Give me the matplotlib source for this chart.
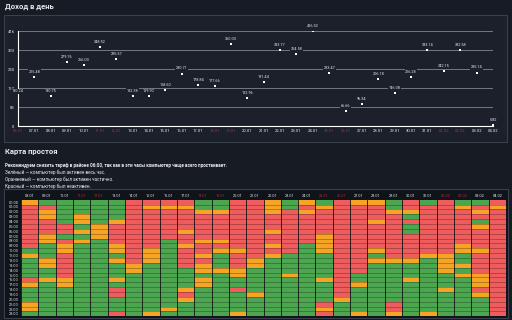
import matplotlib
matplotlib.use('Agg')
from matplotlib import pyplot as plt
from matplotlib.colors import ListedColormap
from matplotlib.patches import Rectangle
import numpy as np

plt.rcParams['font.family'] = ['Roboto', 'DejaVu Sans']

# income per day
days = ['06.01', '07.01', '08.01', '09.01', '10.01', '11.01', '12.01', '13.01', '14.01', '15.01',
        '16.01', '17.01', '18.01', '19.01', '20.01', '21.01', '22.01', '23.01', '24.01', '25.01',
        '26.01', '27.01', '28.01', '29.01', '30.01', '31.01', '01.02', '02.02', '03.02', '04.02']
income = [130.24, 215.48, 130.75, 279.76, 266.03, 348.52, 295.57, 132.38, 129.90, 158.60,
          230.71, 178.84, 177.66, 360.03, 122.96, 191.44, 333.77, 314.58, 416.32, 233.47,
          66.66, 96.34, 206.18, 146.08, 216.28, 333.14, 242.15, 332.58, 235.14, 5.82]
red_days = ['06.01', '11.01', '12.01', '18.01', '19.01', '25.01', '26.01', '01.02', '02.02']
y_ticks = [0, 83.26, 166.53, 249.79, 333.06, 416.32]
y_labels = ['0', '83', '167', '250', '333', '416']

# idle map: one string per day, hours 00..23 (groups of 6), g = active, o = partly, r = idle
map_days = days[2:]
hours = ['%02d:00' % h for h in range(24)]
idle_map = [
    'orrrrr rrrrgo ggggro gggoog',  # 08.01
    'groorr rooggg ooggog gggggg',  # 09.01
    'gggggr rgroor rrrroo gggggg',  # 10.01
    'gggoog ogoggg gggggg gggggg',  # 11.01
    'gggggo oogggg gggggg gggggg',  # 12.01
    'ggggor rrroog ogggog rrgggr',  # 13.01
    'rrrrrr rrrrrr rooggg gggggg',  # 14.01
    'rorrrr rrrroo oggggg gggggo',  # 15.01
    'rorrrr rrgggg gggggg ggggog',  # 16.01
    'rorrrr orrorr rrgggg oroggg',  # 17.01
    'ggorrr rrorro roogoo gggggg',  # 18.01
    'ggorrr rrorog ggoggg gggggg',  # 19.01
    'rrrrrr rrrror rroogg rggggo',  # 20.01
    'rrrrrr rrrrrr oogggg gogggg',  # 21.01
    'ooorrr orroro gggggg gggggg',  # 22.01
    'ggrrrr rrrrrg gggogg gggggg',  # 23.01
    'ororrr rrrggg gggggg gggggg',  # 24.01
    'gorrrr roooog ggggog gggror',  # 25.01
    'rrrrrr rrrrrr rrrrrr rroggg',  # 26.01
    'orrrrr rrrrrr rrrggo gggggo',  # 27.01
    'orrror rrrrog oggggg gggggg',  # 28.01
    'ggorrr rrrrrr oggggg gggrro',  # 29.01
    'rrogrg grrrrr ogggog gggggg',  # 30.01
    'grrrrr rrrrro gggggg gggggo',  # 31.01
    'rrrrrr rrrrro oooggg oggggg',  # 01.02
    'gorrrr rrroog gogogg gggggg',  # 02.02
    'grorgo rrrror rrrooo rogggg',  # 03.02
    'rorrrr rrrrrr rrrrrr rrrrrr',  # 04.02
]
code = {'g': 0, 'o': 1, 'r': 2}
grid = np.array([[code[c] for c in col.replace(' ', '')] for col in idle_map]).T

bg = '#161b24'
panel = '#1b202a'
txt = '#e6e8ec'
red_txt = '#b3294a'
W, H = 512, 320

fig = plt.figure(figsize=(5.12, 3.2), dpi=100, facecolor=bg)

def box(x0, y0, x1, y1):
    return [x0 / W, 1 - y1 / H, (x1 - x0) / W, (y1 - y0) / H]

# panels behind the axes
fig.patches.append(Rectangle((4 / W, 1 - 142 / H), 503 / W, 127 / H, transform=fig.transFigure,
                             facecolor=panel, edgecolor='#3a404b', linewidth=0.8, zorder=-10))
fig.patches.append(Rectangle((4 / W, 1 - 318 / H), 504 / W, 129 / H, transform=fig.transFigure,
                             facecolor='#0f131a', edgecolor='#3a404b', linewidth=0.8, zorder=-10))

fig.text(5 / W, 1 - 7 / H, 'Доход в день', color=txt, fontsize=5.5, fontweight='bold', va='center')
fig.text(5 / W, 1 - 151.5 / H, 'Карта простоя', color=txt, fontsize=5.5, fontweight='bold', va='center')
fig.text(5 / W, 1 - 165.5 / H, 'Рекомендуем снизить тариф в районе 06:00, так как в эти часы компьютер чаще всего простаивает.',
         color=txt, fontsize=3.3, fontweight='bold', va='center')
fig.text(5 / W, 1 - 172.5 / H, 'Зелёный — компьютер был активен весь час.', color=txt, fontsize=3.3, va='center')
fig.text(5 / W, 1 - 179.5 / H, 'Оранжевый — компьютер был активен частично.', color=txt, fontsize=3.3, va='center')
fig.text(5 / W, 1 - 186.5 / H, 'Красный — компьютер был неактивен.', color=txt, fontsize=3.3, va='center')

# income chart
ax = fig.add_axes(box(18, 31.3, 493, 126))
ax.set_facecolor('none')
x = np.arange(len(days))
ax.plot(x, income, 's', color='white', markersize=1.6, markeredgewidth=0, zorder=4)
for xi, v in zip(x, income):
    ax.annotate('%.2f' % v, (xi, v), xytext=(0, 2.2), textcoords='offset points', ha='center', va='bottom',
                fontsize=2.8, color=txt, zorder=5,
                bbox=dict(boxstyle='square,pad=0.15', facecolor=panel, edgecolor='none'))
ax.set_xlim(0, len(days) - 1)
ax.set_ylim(0, y_ticks[-1])
ax.set_yticks(y_ticks)
ax.set_yticklabels(y_labels)
ax.set_xticks(x)
ax.set_xticklabels(days)
for lab in ax.get_xticklabels():
    lab.set_color(red_txt if lab.get_text() in red_days else txt)
ax.tick_params(axis='both', length=0, labelsize=3, pad=2.5)
ax.tick_params(axis='y', colors=txt)
ax.grid(axis='y', color='#80868f', linewidth=0.6)
ax.set_axisbelow(True)
for s in ['top', 'right']:
    ax.spines[s].set_visible(False)
for s in ['left', 'bottom']:
    ax.spines[s].set_color('white')
    ax.spines[s].set_linewidth(0.8)

# idle heatmap
hx = fig.add_axes(box(21, 199.7, 506, 316.3))
cmap = ListedColormap(['#4ba64f', '#f5a425', '#ee5c5e'])
hx.pcolormesh(grid, cmap=cmap, vmin=-0.5, vmax=2.5, edgecolors='none')
for k in range(1, len(hours)):
    hx.axhline(k, color='black', alpha=0.45, linewidth=0.4)
for k in range(len(map_days) + 1):
    hx.axvline(k, color='#101010', linewidth=0.6)
hx.set_xlim(0, len(map_days))
hx.set_ylim(len(hours), 0)
hx.xaxis.tick_top()
hx.set_xticks(np.arange(len(map_days)) + 0.5)
hx.set_xticklabels(map_days)
for lab in hx.get_xticklabels():
    lab.set_color(red_txt if lab.get_text() in red_days else txt)
hx.set_yticks(np.arange(len(hours)) + 0.5)
hx.set_yticklabels(hours)
hx.tick_params(axis='both', length=0, labelsize=2.8, pad=1.5)
hx.tick_params(axis='y', colors=txt)
for s in hx.spines.values():
    s.set_visible(False)

fig.savefig('out.png', dpi=100, facecolor=bg)
